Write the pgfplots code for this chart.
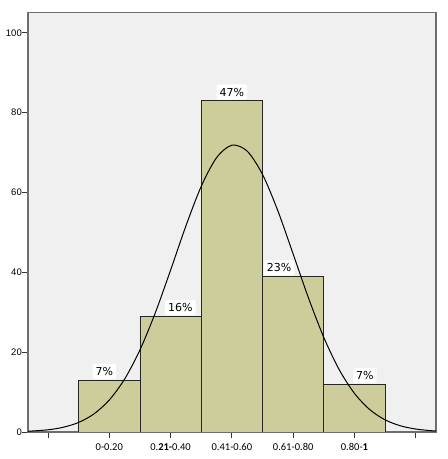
\documentclass[border=0pt]{standalone}
\usepackage{pgfplots}
\pgfplotsset{compat=1.18}
\usepackage{fontspec}
\setmainfont{Liberation Sans}
\newfontfamily\labfont{Carlito}
\newfontfamily\pctfont{DejaVu Sans}
\definecolor{panel}{RGB}{240,240,240}
\definecolor{barfill}{RGB}{205,205,155}
\definecolor{frame}{RGB}{110,110,110}

\begin{document}
\begin{tikzpicture}
\begin{axis}[
  scale only axis,
  width=408pt, height=419.5pt,
  xmin=-0.326, xmax=6.33,
  ymin=0, ymax=105.1,
  axis background/.style={fill=panel},
  axis line style={frame, line width=1.2pt},
  tick pos=left,
  tick align=outside,
  major tick length=6pt,
  tick style={black!80, line width=0.9pt},
  xtick={0,1,2,3,4,5,6},
  xticklabels={,0-0.20,0.\textbf{21-}0.40,0.41-0.60,0.61-0.80,0.80-\textbf{1},},
  xticklabel style={font=\labfont\fontsize{10.5}{10.5}\selectfont, yshift=-2pt},
  ytick={0,20,40,60,80,100},
  yticklabel style={font=\fontsize{9.5}{9.5}\selectfont, inner sep=1pt, xshift=1pt},
  /pgf/number format/assume math mode=true,
  clip=true,
]
% frequency of each score band
\addplot[ybar, bar width=1, fill=barfill, draw=black!85, line width=0.8pt]
  coordinates {(1,13) (2,29) (3,83) (4,39) (5,12)};

% percentage labels above the bars
\begin{scope}[every node/.style={fill=white, rounded corners=1.5pt,
    inner xsep=3pt, inner ysep=3.5pt,
    font=\pctfont\fontsize{11}{11}\selectfont, anchor=south}]
  \node at (axis cs:0.92,13) [yshift=0.8pt] {7\%};
  \node at (axis cs:2.16,29) [yshift=0.8pt] {16\%};
  \node at (axis cs:3.00,83) [yshift=0.8pt] {47\%};
  \node at (axis cs:3.77,39) [yshift=0.8pt] {23\%};
  \node at (axis cs:5.17,12) [yshift=0.8pt] {7\%};
\end{scope}

% fitted normal curve (mean 3.045, sd 0.976, n = 176)
\addplot[black, line width=1pt, smooth] coordinates {
  (-0.33,0.18) (0,0.55) (0.25,1.19) (0.5,2.40) (0.75,4.53) (1.0,8.01)
  (1.25,13.26) (1.5,20.55) (1.75,29.83) (2.0,40.55) (2.25,51.62)
  (2.5,61.55) (2.75,68.72) (3.0,71.85) (3.25,70.36)
  (3.5,64.52) (3.75,55.42) (4.0,44.57) (4.25,33.57) (4.5,23.68)
  (4.75,15.64) (5.0,9.67) (5.25,5.60) (5.5,3.04) (5.75,1.55)
  (6.0,0.74) (6.25,0.33) (6.33,0.25)};

\coordinate (ll) at (rel axis cs:0,0);
\coordinate (ur) at (rel axis cs:1,1);
\end{axis}
\path ([shift={(-28pt,-27pt)}]ll) rectangle ([shift={(11pt,12.5pt)}]ur);
\end{tikzpicture}
\end{document}
